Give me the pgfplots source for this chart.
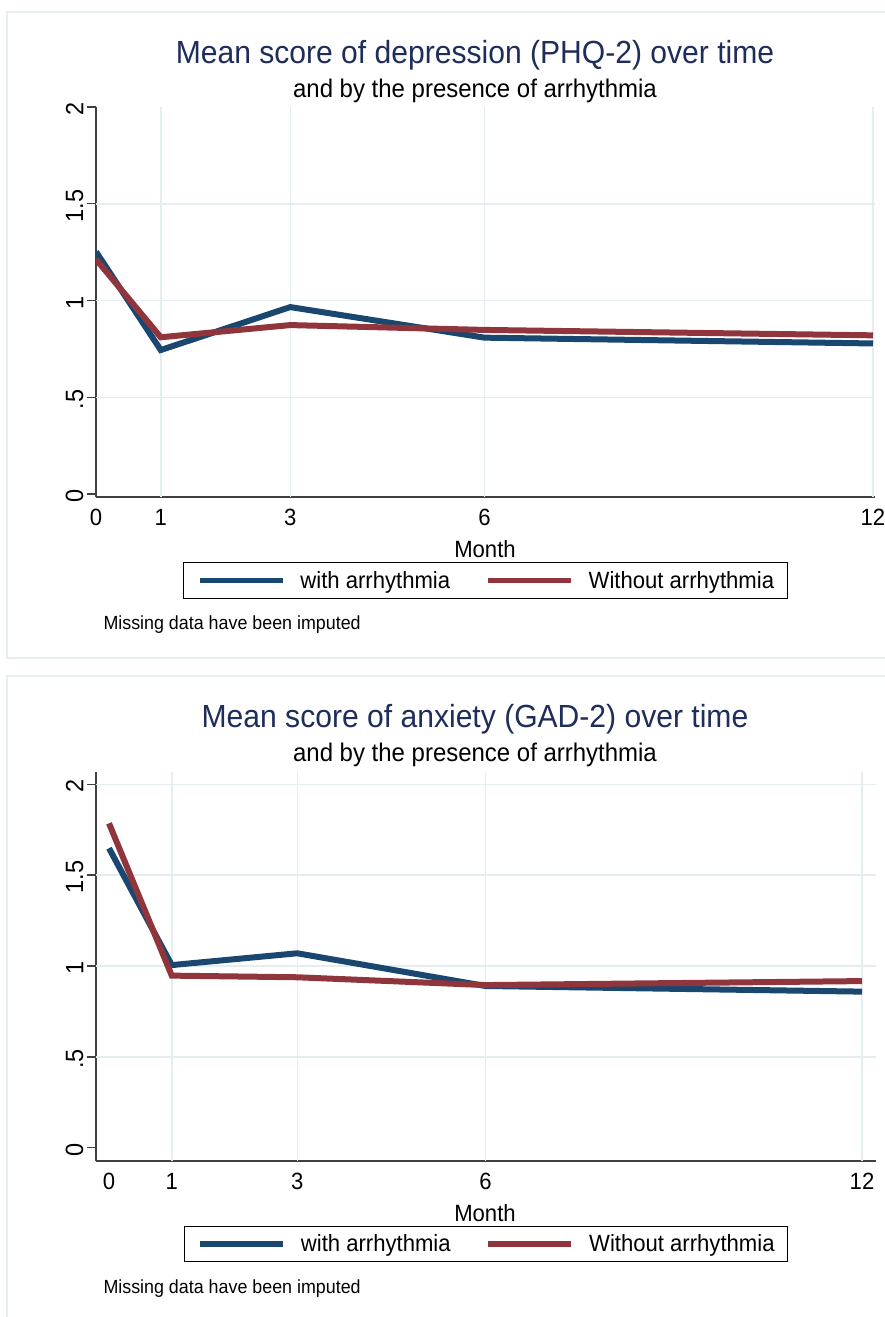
\documentclass[border=0pt]{standalone}
\usepackage{fontspec}
\setmainfont{Liberation Sans}[FakeStretch=0.94]
\usepackage{pgfplots}
\pgfplotsset{compat=1.18}
\definecolor{navy}{RGB}{26,71,111}
\definecolor{maroon}{RGB}{144,53,59}
\definecolor{gridc}{RGB}{228,237,240}
\definecolor{framec}{RGB}{230,238,240}
\definecolor{titlec}{RGB}{30,45,90}
\pgfplotsset{
  mystyle/.style={
    scale only axis,
    axis x line=bottom, axis y line=left,
    axis line style={-, line width=1.3bp, color=black!75},
    tick align=outside,
    major tick length=9bp,
    xtick style={draw=none},
    ytick style={line width=1.3bp, color=black!75},
    xtick={0,1,3,6,12}, xticklabels={0,1,3,6,12},
    ytick={0,0.5,1,1.5,2}, yticklabels={0,.5,1,1.5,2},
    /pgf/number format/assume math mode=true,
    xticklabel style={font=\fontsize{23.5bp}{27bp}\selectfont},
    yticklabel style={font=\fontsize{25bp}{28bp}\selectfont, rotate=90, anchor=south, xshift=-2bp},
    extra x tick style={grid=major, major tick length=0pt, tick style={draw=none}},
    extra y tick style={grid=major, tick style={draw=none}},
    major grid style={color=gridc, line width=1.5bp},
    legend columns=2,
    legend style={at={(axis description cs:0.5,-0.1667)}, anchor=north,
      draw=black, line width=1bp, inner xsep=13bp, inner ysep=8.5bp,
      nodes={inner sep=0pt},
      font=\fontsize{23.5bp}{27bp}\selectfont,
      /tikz/every odd column/.append style={column sep=15bp},
      /tikz/every even column/.append style={column sep=35bp}},
    legend image code/.code={\draw[#1, line width=5.5bp] (0bp,0bp) -- (83bp,0bp);},
    every axis plot/.append style={line width=6bp, line join=miter, line cap=butt},
  }
}
\begin{document}
\begin{tikzpicture}
\useasboundingbox (0,0) rectangle (885bp,-1317bp);
\fill[white] (0,0) rectangle (885bp,-1317bp);
\draw[framec, line width=2bp] (7bp,-12bp) rectangle (900bp,-658bp);
\draw[framec, line width=2bp] (7bp,-676bp) rectangle (900bp,-1340bp);

% ---------- top panel ----------
\begin{axis}[mystyle, at={(96bp,-497bp)}, anchor=south west,
  width=779bp, height=390bp,
  xmin=0, xmax=12.031, ymin=-0.0155, ymax=2,
  extra x ticks={1,3,6,12}, extra x tick labels={},
  extra y ticks={0.5,1,1.5}, extra y tick labels={}]
\addplot[navy] coordinates {(0,1.252) (1,0.744) (3,0.966) (6,0.808) (12,0.778)};
\addlegendentry{with arrhythmia}
\addplot[maroon] coordinates {(0,1.213) (1,0.810) (3,0.873) (6,0.848) (12,0.820)};
\addlegendentry{Without arrhythmia}
\end{axis}
\node[anchor=base, font=\fontsize{32bp}{36bp}\selectfont, text=titlec] at (475bp,-63bp) {Mean score of depression (PHQ-2) over time};
\node[anchor=base, font=\fontsize{25.5bp}{29bp}\selectfont] at (475bp,-97bp) {and by the presence of arrhythmia};
\node[anchor=base, font=\fontsize{23.5bp}{27bp}\selectfont] at (485bp,-557bp) {Month};
\node[anchor=base west, font=\fontsize{19bp}{22bp}\selectfont] at (100bp,-629bp) {Missing data have been imputed};

% ---------- bottom panel ----------
\begin{axis}[mystyle, at={(96bp,-1161bp)}, anchor=south west,
  width=780bp, height=389.3bp,
  xmin=-0.2072, xmax=12.223, ymin=-0.073, ymax=2.069,
  extra x ticks={1,3,6,12}, extra x tick labels={},
  extra y ticks={0.5,1,1.5,2}, extra y tick labels={}]
\addplot[navy] coordinates {(0,1.648) (1,1.005) (3,1.070) (6,0.890) (12,0.859)};
\addlegendentry{with arrhythmia}
\addplot[maroon] coordinates {(0,1.785) (1,0.947) (3,0.938) (6,0.895) (12,0.917)};
\addlegendentry{Without arrhythmia}
\end{axis}
\node[anchor=base, font=\fontsize{32bp}{36bp}\selectfont, text=titlec] at (475bp,-727bp) {Mean score of anxiety (GAD-2) over time};
\node[anchor=base, font=\fontsize{25.5bp}{29bp}\selectfont] at (475bp,-761bp) {and by the presence of arrhythmia};
\node[anchor=base, font=\fontsize{23.5bp}{27bp}\selectfont] at (485bp,-1221bp) {Month};
\node[anchor=base west, font=\fontsize{19bp}{22bp}\selectfont] at (100bp,-1293bp) {Missing data have been imputed};
\end{tikzpicture}
\end{document}
